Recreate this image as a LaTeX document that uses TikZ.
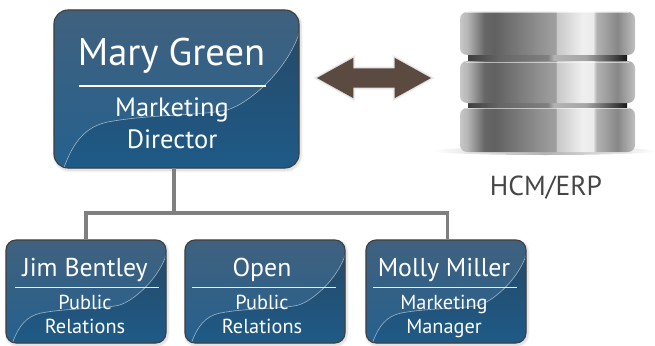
\documentclass[tikz,border=0pt]{standalone}
\usepackage{fontspec}
\setmainfont{PT Sans}
\usetikzlibrary{shapes.arrows,calc}
\definecolor{cardtopc}{HTML}{40617E}
\definecolor{cardbotc}{HTML}{25618F}
\definecolor{cardedge}{HTML}{3F3F3F}
\definecolor{swooshtop}{HTML}{264A69}
\definecolor{swooshmid}{HTML}{205076}
\definecolor{swooshbot}{HTML}{1E5B88}
\definecolor{arrowbrown}{HTML}{5A4A3F}
\definecolor{wirec}{HTML}{7F7F80}
\definecolor{labelc}{HTML}{454545}
% 25bp..75bp of the shading map on to the disk's width
\pgfdeclarehorizontalshading{diskmetal}{100bp}{
 color(0bp)=(black!20); color(25bp)=(black!22); color(27bp)=(black!28); color(32bp)=(black!60);
 color(35bp)=(black!62); color(50bp)=(black!40); color(52.4bp)=(black!38); color(52.5bp)=(black!22);
 color(60bp)=(black!6); color(63bp)=(black!8); color(64bp)=(black!30); color(70bp)=(black!47);
 color(75bp)=(black!25); color(100bp)=(black!25)}
\pgfdeclarehorizontalshading{bandmetal}{100bp}{
 color(0bp)=(black!75); color(25bp)=(black!75); color(35bp)=(black!60); color(50bp)=(black!50);
 color(52bp)=(black!30); color(62bp)=(black!35); color(75bp)=(black!90); color(100bp)=(black!90)}
\tikzset{
 softshadow/.style={
  preaction={draw=black,draw opacity=.04,line width=5pt,transform canvas={shift={(1pt,-1.5pt)}}},
  preaction={draw=black,draw opacity=.07,line width=3pt,transform canvas={shift={(1pt,-1.5pt)}}}},
 card/.style 2 args={rectangle,softshadow,draw=cardedge,line width=1.1pt,inner sep=0pt,outer sep=0pt,
  minimum width=#1,minimum height=#2,top color=cardtopc,bottom color=cardbotc,
  path picture={
   \begin{scope}[sharp corners,x=#1,y=#2]
    \shade[top color=swooshtop,middle color=swooshmid,bottom color=swooshbot]
     (-.46,-.5) .. controls (-.42,-.33) and (-.37,-.24) .. (-.284,-.21)
     .. controls (-.12,-.16) and (.1,-.17) .. (.206,-.133)
     .. controls (.3,-.09) and (.45,.12) .. (.5,.35) -- (.52,.35) -- (.52,-.52) -- (-.46,-.52) -- cycle;
    \draw[white,draw opacity=.55,line width=.6pt]
     (-.46,-.5) .. controls (-.42,-.33) and (-.37,-.24) .. (-.284,-.21)
     .. controls (-.12,-.16) and (.1,-.17) .. (.206,-.133)
     .. controls (.3,-.09) and (.45,.12) .. (.5,.35);
   \end{scope}}},
 bigcard/.style={card={245pt}{158pt},rounded corners=14pt},
 smallcard/.style={card={160pt}{103pt},rounded corners=10pt},
 bigname/.style={anchor=base,inner sep=0pt,text=white,font=\fontsize{38.5}{38.5}\selectfont},
 bigrole/.style={anchor=base,inner sep=0pt,text=white,font=\fontsize{26.5}{26.5}\selectfont},
 smallname/.style={anchor=base,inner sep=0pt,text=white,font=\fontsize{25.8}{25.8}\selectfont},
 smallrole/.style={anchor=base,inner sep=0pt,text=white,font=\fontsize{20.3}{20.3}\selectfont},
 divider/.style={white,line width=1.6pt},
 thindivider/.style={white,draw opacity=.9,line width=.8pt},
 wire/.style={draw=wirec,line width=3.4pt},
 diskc/.style={rectangle,rounded corners=7pt,inner sep=0pt,outer sep=0pt,minimum width=175pt,shading=diskmetal},
 diskband/.style={rectangle,inner sep=0pt,minimum width=159pt,minimum height=6pt,shading=bandmetal},
 rim/.style={draw=white,draw opacity=.55,line width=1pt},
 linkarrow/.style={double arrow,fill=arrowbrown,inner xsep=0pt,inner ysep=9.5pt,outer sep=0pt,
  minimum width=40pt,minimum height=114pt,double arrow head extend=10.5pt,double arrow tip angle=58,
  preaction={draw=black,draw opacity=.05,line width=4pt},
  preaction={draw=black,draw opacity=.07,line width=2pt}},
}
\begin{document}
\begin{tikzpicture}[x=1pt,y=-1pt]
\useasboundingbox (0,0) rectangle (655,345);
\coordinate (bus) at (174,213);
\coordinate (mollydrop) at (447.5,240);
\node[bigcard] (mary) at (176.5,89) {};
\node[smallcard] (jim) at (86,291.5) {};
\node[smallcard] (open) at (265,291.5) {};
\node[smallcard] (molly) at (446,291.5) {};
\draw[wire] (bus|-mary.south) -- (bus);
\draw[wire] (jim.north) |- (bus) -| (mollydrop);
% big card text
\node[bigname] (maryname) at (171.5,66) {Mary Green};
\draw[divider] (79,86) -- (266,86);
\node[bigrole] (maryrole1) at (172,116) {Marketing};
\node[bigrole] (maryrole2) at (172,148) {Director};
% small cards
\node[smallname] (jimname) at (85,276) {Jim Bentley};
\draw[thindivider] (15,287) -- (159,287);
\node[smallrole] (jimrole1) at (85,309) {Public};
\node[smallrole] (jimrole2) at (85,333) {Relations};
\node[smallname] (openname) at (262,276) {Open};
\draw[thindivider] (192,287) -- (336,287);
\node[smallrole] (openrole1) at (262,309) {Public};
\node[smallrole] (openrole2) at (262,333) {Relations};
\node[smallname] (mollyname) at (444,276) {Molly Miller};
\draw[thindivider] (373,287) -- (517,287);
\node[smallrole] (mollyrole1) at (444,309) {Marketing};
\node[smallrole] (mollyrole2) at (444,333) {Manager};
% arrow
\node[linkarrow] (link) at (374,78) {};
% database
\shade[left color=white,right color=white,middle color=black!30] (545,151) ellipse [x radius=112,y radius=4];
\node[diskband] (band1) at (547.5,58) {};
\node[diskband] (band2) at (547.5,106) {};
\node[diskc,minimum height=43pt] (disk1) at (547.5,33.5) {};
\node[diskc,minimum height=42pt] (disk2) at (547.5,82) {};
\node[diskc,minimum height=44pt] (disk3) at (547.5,130) {};
\draw[rim] (466,12.5) -- (629,12.5);
\draw[rim] (466,62.5) -- (629,62.5);
\draw[rim] (466,108.5) -- (629,108.5);
\node[anchor=base,inner sep=0pt,text=labelc,font=\fontsize{27.5}{27.5}\selectfont] (dblabel) at (546,195) {HCM/ERP};
\end{tikzpicture}
\end{document}
